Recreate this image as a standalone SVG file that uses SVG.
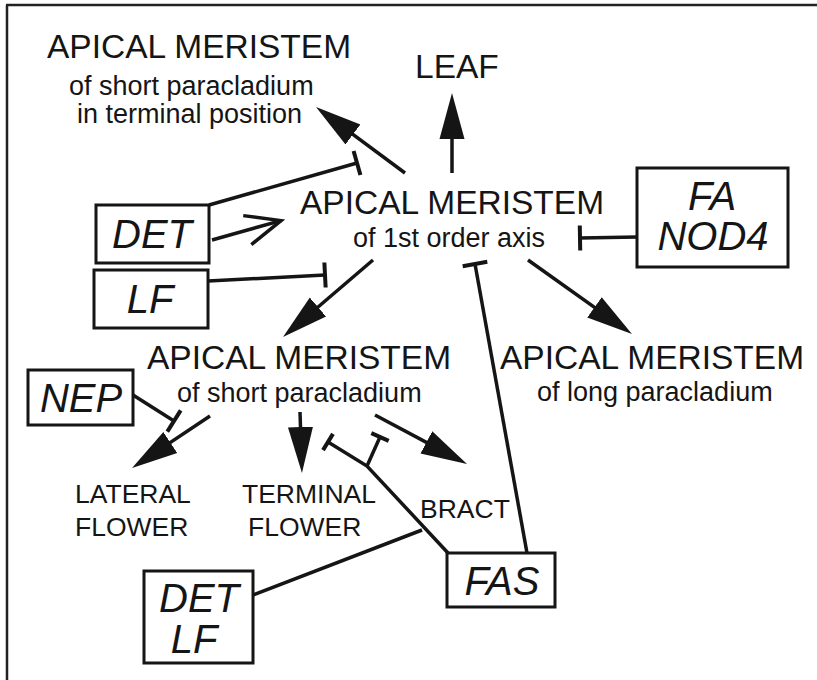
<svg xmlns="http://www.w3.org/2000/svg" width="817" height="680" viewBox="0 0 817 680">
<defs>
<style>
.t{font-family:"Liberation Sans",Arial,sans-serif;fill:#151515}
.big{font-size:33.5px}
.sub{font-size:27px}
.sm{font-size:26.5px}
.gene{font-family:"Liberation Sans",Arial,sans-serif;font-style:italic;font-size:40px;fill:#151515;text-anchor:middle}
.box{fill:#fff;stroke:#151515;stroke-width:3}
.c{fill:none;stroke:#151515;stroke-width:3.5}
.a{marker-end:url(#ah)}
.b{marker-end:url(#bar)}
.bs{marker-end:url(#bars)}
</style>
<marker id="ah" markerUnits="userSpaceOnUse" viewBox="-16 -14 48 28" markerWidth="48" markerHeight="28" refX="0" refY="0" orient="auto"><path d="M-16,-12.5 L30,0 L-16,12.5 Z" fill="#151515"/></marker>
<marker id="bar" markerUnits="userSpaceOnUse" viewBox="-3 -14 6 28" markerWidth="6" markerHeight="28" refX="0" refY="0" orient="auto"><path d="M0,-12.5 V12.5" stroke="#151515" stroke-width="4"/></marker>
<marker id="bars" markerUnits="userSpaceOnUse" viewBox="-3 -14 6 28" markerWidth="6" markerHeight="28" refX="0" refY="0" orient="auto"><path d="M0,-9.5 V9.5" stroke="#151515" stroke-width="4"/></marker>
<marker id="open" markerUnits="userSpaceOnUse" viewBox="-40 -22 44 44" markerWidth="44" markerHeight="44" refX="0" refY="0" orient="auto"><path d="M-35,-15 L0,0 L-35,15" fill="none" stroke="#151515" stroke-width="3.5"/></marker>
</defs>
<rect width="817" height="680" fill="#fff"/>
<path d="M6,5 H817 M7,5 V680" fill="none" stroke="#222" stroke-width="2.5"/>

<g id="connectors">
<path class="c a" d="M405,173 L340.1,124.9"/>
<path class="c a" d="M452,173 L452,123"/>
<path class="c a" d="M373,260 L305.8,317.5"/>
<path class="c a" d="M528,260 L607.5,316.6"/>
<path class="c a" d="M210,416 L157,451.4"/>
<path class="c a" d="M300,412 L301,443"/>
<path class="c a" d="M375,415 L440.5,449.9"/>
<path class="c" style="marker-end:url(#open)" d="M212,240 L281,220.6"/>
<path class="c b" d="M209,205 L357,163"/>
<path class="c b" d="M208,281 L325,275"/>
<path class="c b" d="M637,237 L580,238"/>
<path class="c b" d="M527,553 L475,264"/>
<path class="c b" d="M133,395 L174,421"/>
<path class="c bs" d="M448,553 L367,466 L328,442"/>
<path class="c bs" d="M367,466 L380,437"/>
<path class="c" d="M253,595 L422,530"/>
</g>

<g id="am-terminal">
<text class="t big" x="47" y="58">APICAL MERISTEM</text>
<text class="t sub" x="69" y="95">of short paracladium</text>
<text class="t sub" x="77" y="123">in terminal position</text>
</g>
<g id="leaf"><text class="t big" x="415" y="78">LEAF</text></g>
<g id="am-first">
<text class="t big" x="300" y="214">APICAL MERISTEM</text>
<text class="t sub" x="353" y="247">of 1st order axis</text>
</g>
<g id="am-short">
<text class="t big" x="147" y="369">APICAL MERISTEM</text>
<text class="t sub" x="177" y="402">of short paracladium</text>
</g>
<g id="am-long">
<text class="t big" x="500" y="369">APICAL MERISTEM</text>
<text class="t sub" x="537" y="401">of long paracladium</text>
</g>
<g id="lateral-flower">
<text class="t sm" x="75" y="503">LATERAL</text>
<text class="t sm" x="75" y="536">FLOWER</text>
</g>
<g id="terminal-flower">
<text class="t sm" x="242" y="503">TERMINAL</text>
<text class="t sm" x="248" y="536">FLOWER</text>
</g>
<g id="bract"><text class="t sm" x="420" y="518">BRACT</text></g>

<g id="det"><rect class="box" x="96" y="205" width="113" height="58"/><text class="gene" x="152" y="248">DET</text></g>
<g id="lf"><rect class="box" x="94" y="270" width="114" height="58"/><text class="gene" x="150" y="313">LF</text></g>
<g id="fa-nod4"><rect class="box" x="637" y="168" width="151" height="99"/><text class="gene" x="712" y="210">FA</text><text class="gene" x="713" y="250">NOD4</text></g>
<g id="nep"><rect class="box" x="28" y="370" width="105" height="55"/><text class="gene" x="81" y="412">NEP</text></g>
<g id="fas"><rect class="box" x="447" y="553" width="108" height="54"/><text class="gene" x="502" y="595">FAS</text></g>
<g id="det-lf"><rect class="box" x="144" y="571" width="109" height="92"/><text class="gene" x="199" y="612">DET</text><text class="gene" x="194" y="653">LF</text></g>
</svg>
